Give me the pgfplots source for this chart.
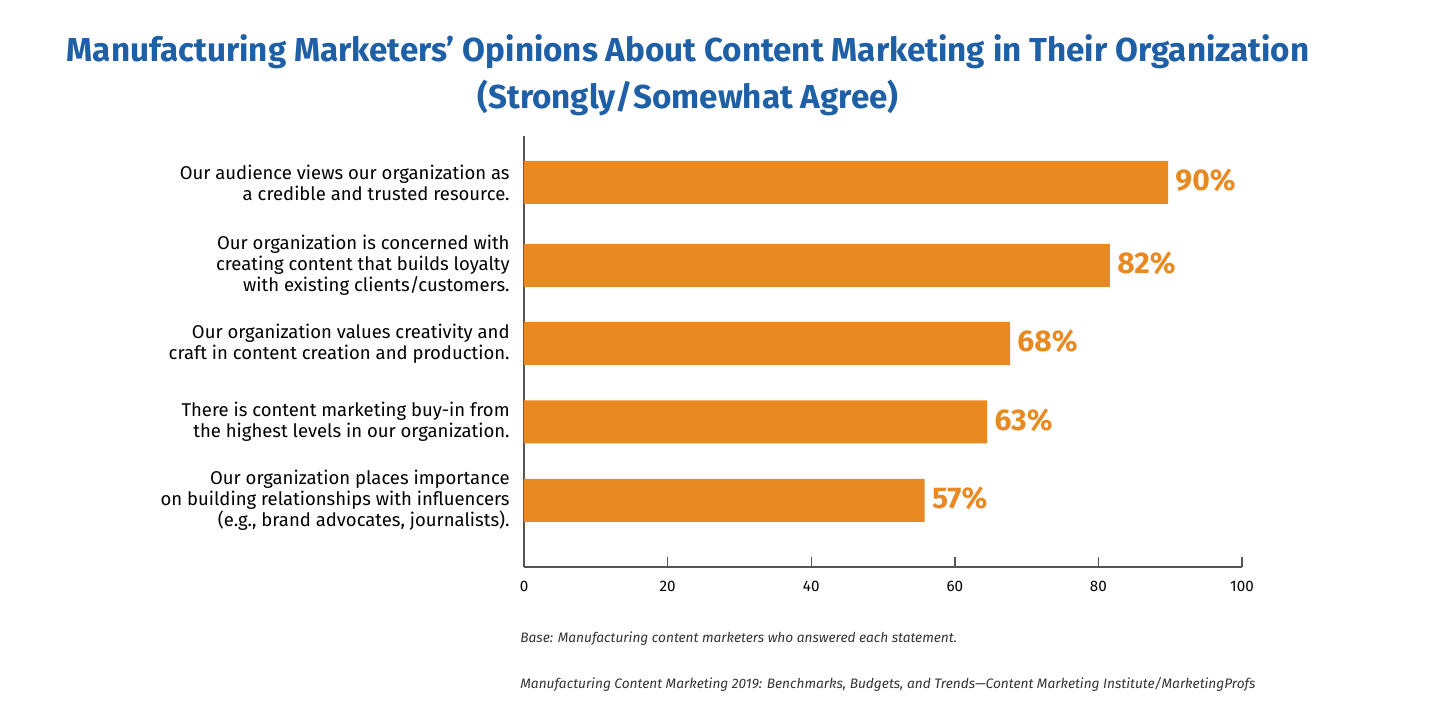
\documentclass[border=0pt]{standalone}
\usepackage{fontspec}
\setmainfont{Fira Sans}
\usepackage{pgfplots}
\pgfplotsset{compat=1.18}
\usepackage{pgfplotstable}

\definecolor{barorange}{HTML}{E88922}
\definecolor{titleblue}{HTML}{1E5FA5}
\definecolor{axisgray}{HTML}{555555}
\definecolor{notegray}{HTML}{333333}

% y = distance of bar centre above the x axis, val = bar length, lab = printed value
\pgfplotstableread{
y      val   lab
384.5  89.7  90
301.5  81.6  82
223.5  67.7  68
145.0  64.5  63
66.5   55.8  57
}\opinions

\begin{document}
\begin{tikzpicture}
\useasboundingbox (0,0) rectangle (718pt,-358pt);

% title
\node[font=\fontsize{16.6}{20}\selectfont\bfseries, text=titleblue] at (344pt,-26pt)
  {Manufacturing Marketers’ Opinions About Content Marketing in Their Organization};
\node[font=\fontsize{16.6}{20}\selectfont\bfseries, text=titleblue] at (344pt,-49pt)
  {(Strongly/Somewhat Agree)};

\begin{axis}[
    at={(262pt,-283.5pt)}, anchor=south west,
    scale only axis,
    width=359pt, height=215.5pt,
    xmin=0, xmax=100,
    ymin=0, ymax=431,
    xbar, bar width=43,
    axis x line*=bottom,
    axis y line*=left,
    axis line style={draw=axisgray, line width=0.7pt},
    xtick={0,20,...,100},
    xtick align=inside,
    major tick length=5pt,
    xtick style={draw=axisgray, line width=0.7pt},
    xticklabel style={font=\fontsize{7.6}{9}\selectfont, text=black, yshift=-3.5pt},
    /pgf/number format/assume math mode=true,
    ytick={384.5,301.5,223.5,145,66.5},
    yticklabels={
      {Our audience views our organization as\\a credible and trusted resource.},
      {Our organization is concerned with\\creating content that builds loyalty\\with existing clients/customers.},
      {Our organization values creativity and\\craft in content creation and production.},
      {There is content marketing buy-in from\\the highest levels in our organization.},
      {Our organization places importance\\on building relationships with influencers\\(e.g., brand advocates, journalists).}
    },
    ytick style={draw=none},
    yticklabel style={align=right, font=\fontsize{9.25}{10.5}\selectfont, text=black, inner sep=0pt, xshift=-2pt},
    nodes near coords={\pgfmathprintnumber{\pgfplotspointmeta}\%},
    point meta=explicit,
    nodes near coords style={anchor=west, inner sep=1.5pt, xshift=2pt, yshift=1pt, font=\fontsize{15}{17}\selectfont\bfseries, text=barorange},
    clip=false,
]
\addplot[fill=barorange, draw=none] table[x=val, y=y, meta=lab] {\opinions};
\end{axis}

% notes
\node[anchor=west, inner sep=0pt, font=\fontsize{6.85}{8}\selectfont\itshape, text=notegray] at (260pt,-319.5pt)
  {Base: Manufacturing content marketers who answered each statement.};
\node[anchor=west, inner sep=0pt, font=\fontsize{6.85}{8}\selectfont\itshape, text=notegray] at (260pt,-342pt)
  {Manufacturing Content Marketing 2019: Benchmarks, Budgets, and Trends—Content Marketing Institute/MarketingProfs};
\end{tikzpicture}
\end{document}
